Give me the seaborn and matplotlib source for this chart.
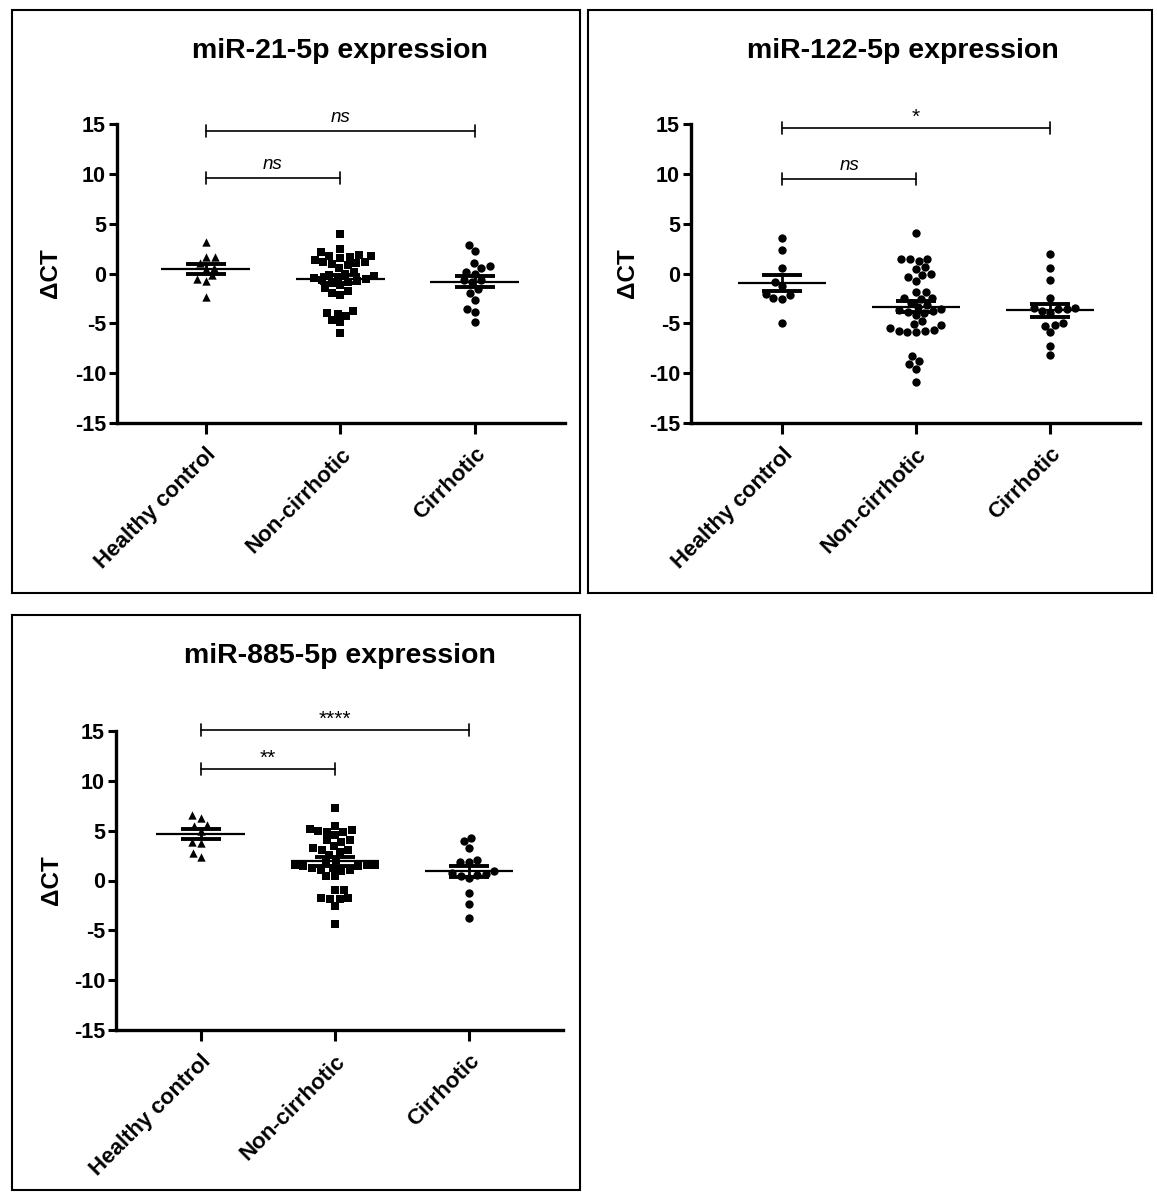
import numpy as np
import pandas as pd
import matplotlib
matplotlib.use("Agg")
import matplotlib.pyplot as plt
from matplotlib.patches import Rectangle
import seaborn as sns

sns.set_theme(style="ticks")
plt.rcParams["font.family"] = ["Liberation Sans", "DejaVu Sans"]
plt.rcParams.update({
    "text.color": "black",
    "axes.labelcolor": "black",
    "axes.edgecolor": "black",
    "xtick.color": "black",
    "ytick.color": "black",
    "axes.unicode_minus": False,
})

groups = ["Healthy control", "Non-cirrhotic", "Cirrhotic"]

# delta-CT values per group, miR-21-5p
mir21_healthy = [3.2, 1.7, 1.7, 1.1, 0.6, 0.5, -0.2, -0.6, -0.8, -2.4]
mir21_noncirr = [4.0, 2.5, 2.2, 1.9, 1.8, 1.8, 1.7, 1.6, 1.4, 1.2, 1.2, 1.1, 1.0,
                 0.9, 0.6, 0.2, 0.0, -0.2, -0.3, -0.4, -0.5, -0.6, -0.7, -0.8,
                 -0.9, -1.0, -1.2, -1.5, -1.8, -2.0, -2.2, -3.8, -4.0, -4.1,
                 -4.3, -4.7, -4.9, -6.0]
mir21_cirr = [2.9, 2.3, 1.1, 0.6, 0.75, 0.0, 0.2, -0.65, -0.65, -0.9, -1.55,
              -1.95, -2.65, -3.55, -3.9, -4.9]

# miR-122-5p
mir122_healthy = [3.6, 2.4, 0.6, -0.85, -1.3, -2.05, -2.45, -2.55, -2.2, -5.0]
mir122_noncirr = [4.1, 1.5, 1.45, 1.3, 1.5, 0.7, 0.5, -0.2, -0.4, -0.05, -0.8,
                  -1.9, -1.9, -2.5, -2.5, -2.6, -3.0, -3.2, -3.4, -3.6, -3.7,
                  -3.8, -3.9, -4.0, -4.2, -4.8, -5.1, -5.5, -5.75, -5.9, -5.9,
                  -5.8, -5.7, -5.2, -8.3, -8.8, -9.1, -9.6, -10.9]
mir122_cirr = [2.0, 0.6, -0.65, -2.45, -3.6, -3.6, -3.8, -3.5, -3.5, -4.0,
               -5.2, -5.0, -5.25, -5.9, -7.25, -8.2]

# miR-885-5p
mir885_healthy = [6.6, 6.3, 5.6, 5.5, 5.0, 3.9, 3.8, 2.4, 2.8]
mir885_noncirr = [7.3, 5.5, 5.1, 4.9, 4.6, 4.85, 4.95, 5.2, 4.05, 3.85, 4.1,
                  3.3, 2.85, 3.1, 3.1, 3.45, 2.6, 1.8, 1.6, 1.45, 1.6, 1.6,
                  1.45, 2.1, 1.3, 1.1, 1.3, 1.0, 1.1, 0.45, 0.45, -0.95, -0.95,
                  -1.8, -1.9, -1.9, -1.75, -2.6, -4.4]
mir885_cirr = [3.95, 4.3, 3.3, 2.1, 1.85, 1.85, 0.95, 0.7, 0.5, 0.3, 0.6, 0.75,
               -1.25, -2.4, -3.8]

titles = ["miR-21-5p expression", "miR-122-5p expression", "miR-885-5p expression"]
panel_data = [
    [mir21_healthy, mir21_noncirr, mir21_cirr],
    [mir122_healthy, mir122_noncirr, mir122_cirr],
    [mir885_healthy, mir885_noncirr, mir885_cirr],
]
panel_markers = [["^", "s", "o"], ["o", "o", "o"], ["^", "s", "o"]]
# comparisons: (group a, group b, bracket height, label)
comparisons = [
    [(0, 1, 9.6, "ns"), (0, 2, 14.3, "ns")],
    [(0, 1, 9.5, "ns"), (0, 2, 14.6, "*")],
    [(0, 1, 11.2, "**"), (0, 2, 15.1, "****")],
]

W, H = 1157, 1196
fig = plt.figure(figsize=(W / 100, H / 100), dpi=100)


def px_rect(x0, y0, x1, y1):
    return [x0 / W, 1 - y1 / H, (x1 - x0) / W, (y1 - y0) / H]


# axes boxes (pixels) and x limits
axes_boxes = [(117, 124, 565, 423), (691, 124, 1140, 423), (116, 731, 563, 1030)]
xlims = [(-0.66, 2.67), (-0.68, 2.67), (-0.63, 2.70)]
frames = [(12, 10, 580, 593), (588, 10, 1152, 593), (12, 615, 580, 1190)]
title_x = [340, 903, 340]
ylabel_x = [62, 639, 63]

for k in range(3):
    fx0, fy0, fx1, fy1 = frames[k]
    fig.add_artist(Rectangle((fx0 / W, 1 - fy1 / H), (fx1 - fx0) / W, (fy1 - fy0) / H,
                             transform=fig.transFigure, fill=False,
                             edgecolor="black", linewidth=1.5))

    bx0, by0, bx1, by1 = axes_boxes[k]
    ax = fig.add_axes(px_rect(bx0, by0, bx1, by1))
    for g, vals in enumerate(panel_data[k]):
        df = pd.DataFrame({"group": groups[g], "dct": vals})
        n_before = len(ax.collections)
        sns.swarmplot(data=df, x="group", y="dct", order=groups, ax=ax,
                      marker=panel_markers[k][g], color="black", size=6,
                      linewidth=0, warn_thresh=1)
        # loosen the swarm a little
        for coll in ax.collections[n_before:]:
            off = coll.get_offsets()
            if len(off):
                off = np.asarray(off, dtype=float)
                off[:, 0] = g + (off[:, 0] - g) * 1.2
                coll.set_offsets(off)
        v = np.asarray(vals, dtype=float)
        m = v.mean()
        sem = v.std(ddof=1) / np.sqrt(len(v))
        ax.hlines(m, g - 0.33, g + 0.33, color="black", lw=1.6, zorder=5)
        ax.errorbar(g, m, yerr=sem, fmt="none", ecolor="black", elinewidth=2,
                    capsize=14.5, capthick=2.8, zorder=5)

    ax.set_xlim(*xlims[k])
    ax.set_ylim(-15, 15)
    ax.set_yticks([-15, -10, -5, 0, 5, 10, 15])
    ax.set_xlabel("")
    ax.set_ylabel("ΔCT", fontsize=17.5, fontweight="bold")
    ax.yaxis.set_label_coords((ylabel_x[k] - bx0) / (bx1 - bx0), 0.5)
    sns.despine(ax=ax)
    for s in ["left", "bottom"]:
        ax.spines[s].set_linewidth(2.4)
    ax.tick_params(axis="y", length=6, width=2.2, labelsize=15.5, pad=2)
    ax.tick_params(axis="x", length=8, width=2.2, labelsize=16, pad=7)
    for lab in ax.get_yticklabels():
        lab.set_fontweight("bold")
    ax.set_xticks(range(3))
    ax.set_xticklabels(groups, rotation=45, ha="right", rotation_mode="anchor",
                       fontweight="bold")

    for a, b, yb, label in comparisons[k]:
        ax.plot([a, b], [yb, yb], color="black", lw=1.2, clip_on=False)
        for xe in (a, b):
            ax.plot([xe, xe], [yb - 0.6, yb + 0.6], color="black", lw=1.2,
                    clip_on=False)
        if label == "ns":
            ax.text((a + b) / 2, yb + 0.45, label, ha="center", va="bottom",
                    fontsize=13.5, fontstyle="italic", clip_on=False)
        else:
            ax.text((a + b) / 2, yb + 0.1, label, ha="center", va="bottom",
                    fontsize=15, clip_on=False)

    fig.text(title_x[k] / W, 1 - (fy0 + 41) / H, titles[k], ha="center",
             va="center", fontsize=20.5, fontweight="bold")

fig.savefig("out.png", dpi=100)
